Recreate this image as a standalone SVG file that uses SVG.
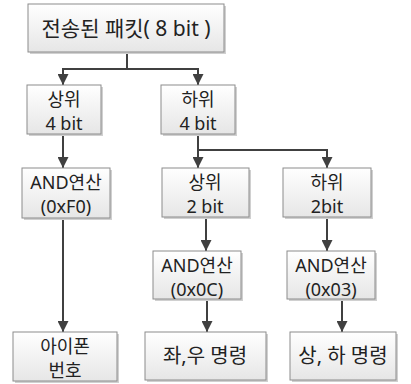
<svg xmlns="http://www.w3.org/2000/svg" width="411" height="384" viewBox="0 0 411 384">
<defs>
<linearGradient id="g" x1="0" y1="0" x2="0" y2="1">
<stop offset="0" stop-color="#ffffff"/>
<stop offset="1" stop-color="#e6e6e6"/>
</linearGradient>
<marker id="arr" markerWidth="11" markerHeight="11" viewBox="0 0 11 11" refX="11" refY="5.5" orient="auto" markerUnits="userSpaceOnUse">
<path d="M0,0 L11,5.5 L0,11 z" fill="#404040"/>
</marker>
</defs>
<style>
.box{fill:url(#g);stroke:#8c8c8c;stroke-width:1}
.sh{fill:#d0d0d0}
text{font-family:"Noto Sans","Noto Sans CJK KR",sans-serif;fill:#222;text-anchor:middle}
.t1{font-size:21px}
.t2{font-size:18px}
.t3{font-size:20px}
.t4{font-size:18px}
.c{fill:none;stroke:#404040;stroke-width:2}
</style>
<rect width="411" height="384" fill="#fff"/>
<g id="connectors">
<path class="c" d="M127,52 V69 H63 V85" marker-end="url(#arr)"/>
<path class="c" d="M127,69 H198 V85" marker-end="url(#arr)"/>
<path class="c" d="M63,134 V168" marker-end="url(#arr)"/>
<path class="c" d="M63,218 V332" marker-end="url(#arr)"/>
<path class="c" d="M198,134 V150 V168" marker-end="url(#arr)"/>
<path class="c" d="M198,150 H327 V168" marker-end="url(#arr)"/>
<path class="c" d="M206,217 V251" marker-end="url(#arr)"/>
<path class="c" d="M207,299 V332" marker-end="url(#arr)"/>
<path class="c" d="M327,217 V251" marker-end="url(#arr)"/>
<path class="c" d="M342,299 V332" marker-end="url(#arr)"/>
</g>
<g id="packet">
<rect class="sh" x="30" y="6" width="196" height="48"/>
<rect class="box" x="28" y="4" width="196" height="48"/>
<text class="t1" x="126" y="36">전송된 패킷( 8 bit )</text>
</g>
<g id="upper4">
<rect class="sh" x="29" y="87" width="74" height="49"/>
<rect class="box" x="27" y="85" width="74" height="49"/>
<text class="t2" x="64" y="106">상위</text>
<text class="t2" x="64" y="130">4 bit</text>
</g>
<g id="lower4">
<rect class="sh" x="163" y="87" width="74" height="49"/>
<rect class="box" x="161" y="85" width="74" height="49"/>
<text class="t2" x="198" y="106">하위</text>
<text class="t2" x="198" y="130">4 bit</text>
</g>
<g id="and_f0">
<rect class="sh" x="24" y="170" width="88" height="50"/>
<rect class="box" x="22" y="168" width="88" height="50"/>
<text class="t2" x="66" y="189">AND연산</text>
<text class="t2" x="66" y="213">(0xF0)</text>
</g>
<g id="phone">
<rect class="sh" x="15" y="334" width="104" height="49"/>
<rect class="box" x="13" y="332" width="104" height="49"/>
<text class="t4" x="65" y="353">아이폰</text>
<text class="t4" x="65" y="377">번호</text>
</g>
<g id="upper2">
<rect class="sh" x="164" y="170" width="87" height="49"/>
<rect class="box" x="162" y="168" width="87" height="49"/>
<text class="t2" x="205" y="189">상위</text>
<text class="t2" x="205" y="213">2 bit</text>
</g>
<g id="lower2">
<rect class="sh" x="285" y="170" width="88" height="49"/>
<rect class="box" x="283" y="168" width="88" height="49"/>
<text class="t2" x="327" y="189">하위</text>
<text class="t2" x="327" y="213">2bit</text>
</g>
<g id="and_0c">
<rect class="sh" x="155" y="253" width="88" height="48"/>
<rect class="box" x="153" y="251" width="88" height="48"/>
<text class="t2" x="197" y="272">AND연산</text>
<text class="t2" x="197" y="296">(0x0C)</text>
</g>
<g id="and_03">
<rect class="sh" x="289" y="253" width="88" height="48"/>
<rect class="box" x="287" y="251" width="88" height="48"/>
<text class="t2" x="331" y="272">AND연산</text>
<text class="t2" x="331" y="296">(0x03)</text>
</g>
<g id="lr_cmd">
<rect class="sh" x="147" y="334" width="121" height="48"/>
<rect class="box" x="145" y="332" width="121" height="48"/>
<text class="t3" x="205" y="363">좌,우 명령</text>
</g>
<g id="ud_cmd">
<rect class="sh" x="292" y="334" width="106" height="48"/>
<rect class="box" x="290" y="332" width="106" height="48"/>
<text class="t3" x="343" y="363">상, 하 명령</text>
</g>
</svg>
